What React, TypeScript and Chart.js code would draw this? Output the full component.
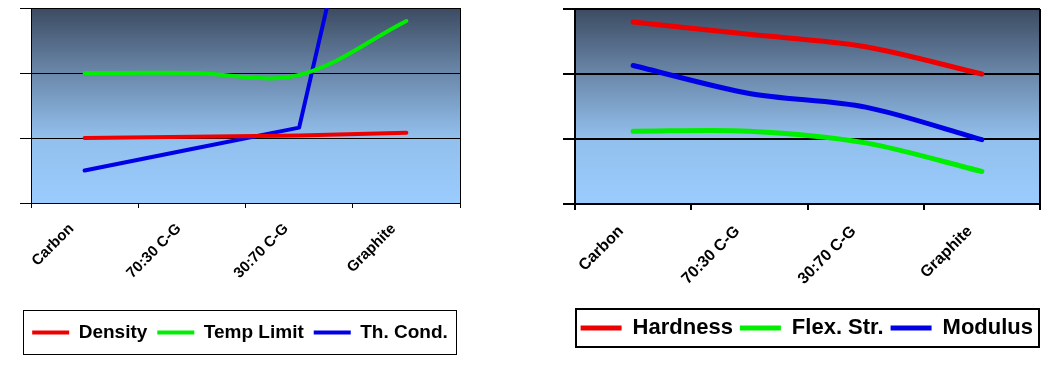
import React, { useEffect, useRef } from "react";
import { Chart, registerables } from "chart.js";

Chart.register(...registerables);

// ---------- data ----------
const categories = ["Carbon", "70:30 C-G", "30:70 C-G", "Graphite"];
const yTickValues = [0, 1, 2, 3];

const density = [1.0, 1.02, 1.04, 1.08];
const tempLimit = [2.0, 2.0, 1.97, 2.8];
const thermalCond = [0.5, 0.83, 1.16, 8.3];

const hardness = [2.8, 2.61, 2.42, 2.0];
const flexStrength = [1.12, 1.12, 0.94, 0.5];
const modulus = [2.13, 1.7, 1.49, 0.99];

const leftLabels = ["Density", "Temp Limit", "Th. Cond."];
const rightLabels = ["Hardness", "Flex. Str.", "Modulus"];

// ---------- styles ----------
const FONT = "Arial, 'Liberation Sans', sans-serif";
const RED = "#ee0000";
const GREEN = "#00ee00";
const BLUE = "#0000e6";

const decorPlugin = {
  id: "decor",
  beforeDraw(chart: any) {
    const { ctx, chartArea: a } = chart;
    const g = ctx.createLinearGradient(0, a.top, 0, a.bottom);
    g.addColorStop(0, "#3c4b62");
    g.addColorStop(0.33, "#6a87a9");
    g.addColorStop(0.66, "#92bfec");
    g.addColorStop(1, "#9accfe");
    ctx.save();
    ctx.fillStyle = g;
    ctx.fillRect(a.left, a.top, a.right - a.left, a.bottom - a.top);
    ctx.restore();
  },
  afterDraw(chart: any, _args: any, opts: any) {
    const { ctx, chartArea: a } = chart;
    ctx.save();
    ctx.strokeStyle = "#000";
    ctx.lineWidth = opts.lineWidth;
    const off = opts.lineWidth % 2 === 1 ? 0.5 : 0;
    ctx.beginPath();
    ctx.moveTo(Math.round(a.right) + off, Math.round(a.top));
    ctx.lineTo(Math.round(a.right) + off, Math.round(a.bottom));
    ctx.stroke();
    const boxes = chart.legend && chart.legend.legendHitBoxes;
    if (boxes && boxes.length) {
      const left = Math.min(...boxes.map((b: any) => b.left));
      const right = Math.max(...boxes.map((b: any) => b.left + b.width));
      const cy = boxes[0].top + boxes[0].height / 2;
      const x0 = Math.round(left - opts.padLeft) + off;
      const x1 = Math.round(right + opts.padRight) + off;
      const y0 = Math.round(cy - opts.padTop) + off;
      const y1 = Math.round(cy + opts.padBottom) + off;
      ctx.strokeRect(x0, y0, x1 - x0, y1 - y0);
    }
    ctx.restore();
  },
};

function makeConfig(p: any) {
  const ds = (label: string, data: number[], color: string, tension: number) => ({
    label,
    data,
    borderColor: color,
    backgroundColor: color,
    borderWidth: p.seriesWidth,
    borderCapStyle: "round",
    borderJoinStyle: "round",
    pointRadius: 0,
    pointHoverRadius: 0,
    tension,
    clip: 0,
    fill: false,
  });
  return {
    type: "line",
    data: {
      labels: categories,
      datasets: p.series.map((s: any) => ds(s.label, s.data, s.color, s.tension)),
    },
    plugins: [decorPlugin],
    options: {
      animation: false,
      responsive: false,
      devicePixelRatio: 1,
      events: [],
      layout: { padding: p.padding },
      scales: {
        x: {
          type: "category",
          offset: true,
          grid: {
            offset: true,
            drawOnChartArea: false,
            drawTicks: true,
            tickLength: p.xTick,
            color: "#000",
            lineWidth: p.axisWidth,
          },
          border: { color: "#000", width: p.axisWidth },
          ticks: {
            autoSkip: false,
            minRotation: 45,
            maxRotation: 45,
            color: "#000",
            padding: p.labelPad,
            labelOffset: p.labelOffset,
            font: { family: FONT, size: p.tickFont, weight: "bold" },
          },
          afterFit: (s: any) => {
            s.height = p.xHeight;
          },
        },
        y: {
          min: yTickValues[0],
          max: yTickValues[yTickValues.length - 1],
          afterBuildTicks: (s: any) => {
            s.ticks = yTickValues.map((v) => ({ value: v }));
          },
          ticks: { display: false },
          grid: {
            color: "#000",
            lineWidth: p.axisWidth,
            drawTicks: true,
            tickLength: p.yTick,
          },
          border: { color: "#000", width: p.axisWidth },
          afterFit: (s: any) => {
            s.width = p.yTick;
          },
        },
      },
      plugins: {
        tooltip: { enabled: false },
        decor: p.decor,
        legend: {
          position: "bottom",
          align: p.legendAlign,
          labels: {
            usePointStyle: true,
            pointStyle: "line",
            pointStyleWidth: p.legendLine,
            padding: p.legendPad,
            color: "#000",
            font: { family: FONT, size: p.legendFont, weight: "bold" },
          },
        },
      },
    },
  };
}

function ChartCanvas({ config, width, height, left }: any) {
  const ref = useRef<HTMLCanvasElement | null>(null);
  useEffect(() => {
    if (!ref.current) return;
    const chart = new Chart(ref.current, config);
    return () => chart.destroy();
  }, []);
  return (
    <canvas
      ref={ref}
      width={width}
      height={height}
      style={{ position: "absolute", left, top: 0, width, height }}
    />
  );
}

const leftConfig = makeConfig({
  series: [
    { label: leftLabels[0], data: density, color: RED, tension: 0 },
    { label: leftLabels[1], data: tempLimit, color: GREEN, tension: 0.35 },
    { label: leftLabels[2], data: thermalCond, color: BLUE, tension: 0 },
  ],
  seriesWidth: 4,
  padding: { left: 20, right: 70, top: 8, bottom: 14 },
  axisWidth: 1,
  xTick: 5,
  yTick: 11,
  xHeight: 110,
  labelPad: 12,
  labelOffset: -13,
  tickFont: 15,
  legendAlign: "center",
  legendLine: 37,
  legendPad: 10,
  legendFont: 19,
  decor: { lineWidth: 1, padLeft: 9, padRight: 8, padTop: 22.7, padBottom: 21.3 },
});

const rightConfig = makeConfig({
  series: [
    { label: rightLabels[0], data: hardness, color: RED, tension: 0.3 },
    { label: rightLabels[1], data: flexStrength, color: GREEN, tension: 0.3 },
    { label: rightLabels[2], data: modulus, color: BLUE, tension: 0.3 },
  ],
  seriesWidth: 5,
  padding: { left: 23, right: 23, top: 9, bottom: 17 },
  axisWidth: 2,
  xTick: 6,
  yTick: 12,
  xHeight: 106,
  labelPad: 12,
  labelOffset: -12,
  tickFont: 16,
  legendAlign: "end",
  legendLine: 41,
  legendPad: 7,
  legendFont: 22,
  decor: { lineWidth: 2, padLeft: 5, padRight: 6, padTop: 19, padBottom: 19 },
});

export default function App() {
  useEffect(() => {
    document.body.style.margin = "0";
  }, []);
  return (
    <div style={{ position: "relative", width: 1063, height: 366, background: "#fff" }}>
      <ChartCanvas config={leftConfig} width={530} height={366} left={0} />
      <ChartCanvas config={rightConfig} width={523} height={366} left={540} />
    </div>
  );
}
